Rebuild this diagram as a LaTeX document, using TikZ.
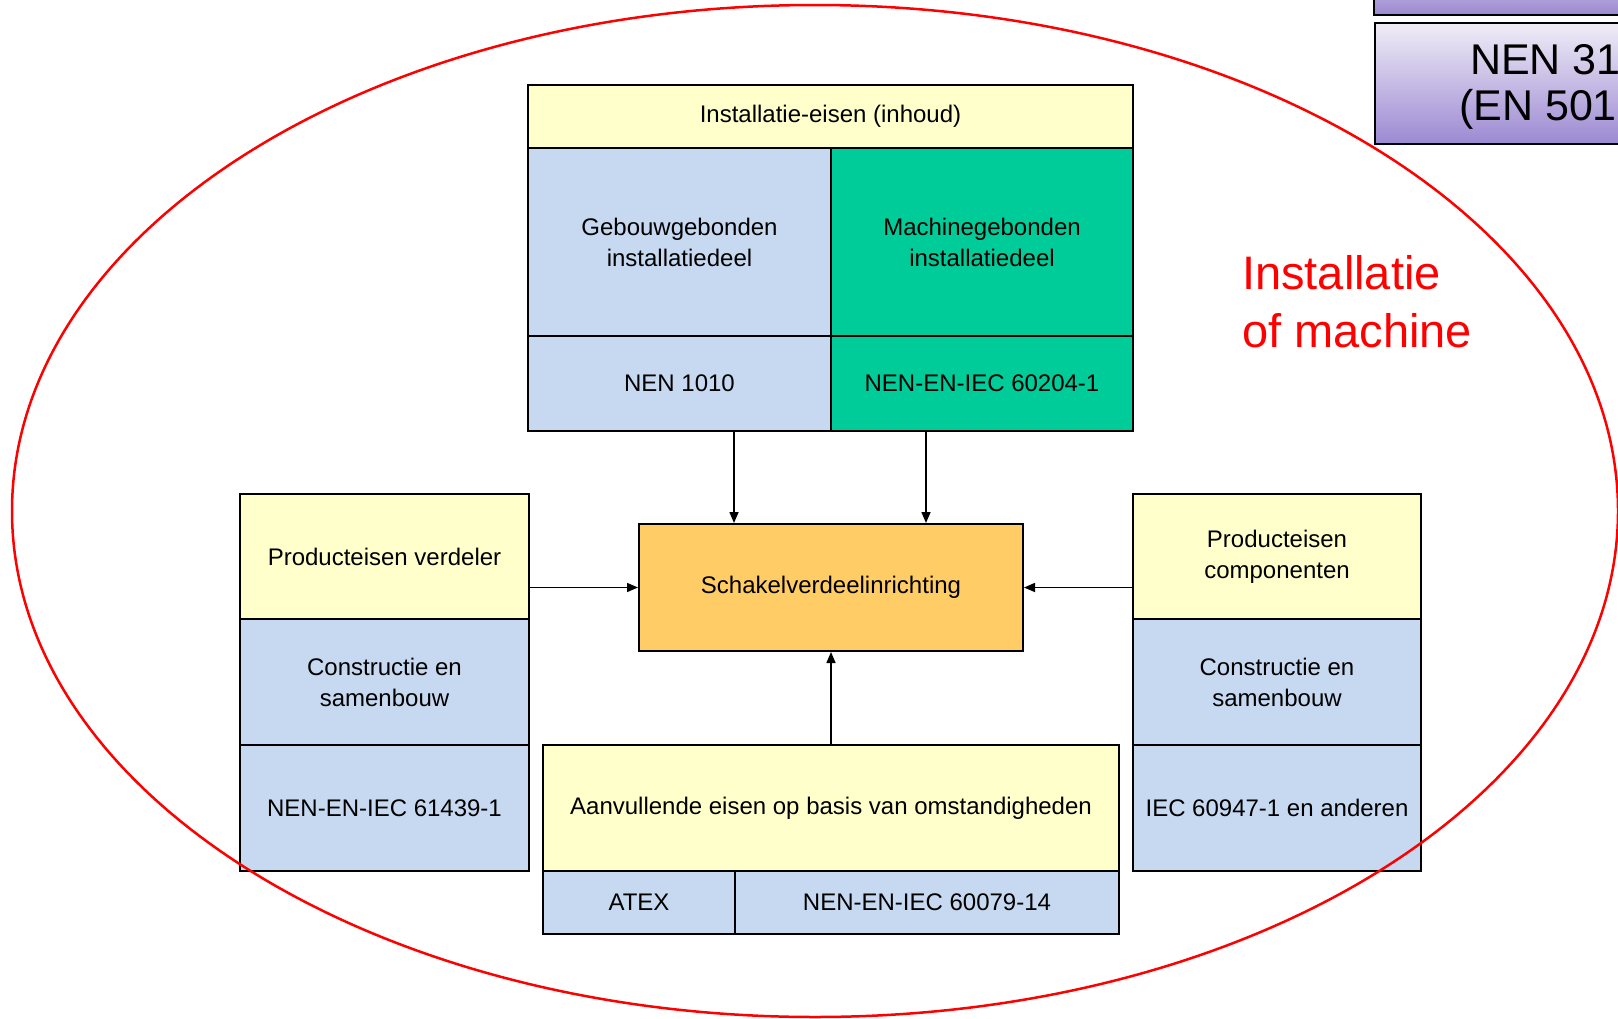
\documentclass[tikz,border=0pt]{standalone}
\usepackage{fontspec}
\setmainfont{Liberation Sans}
\usetikzlibrary{arrows.meta}
\definecolor{cyel}{HTML}{FFFFCC}
\definecolor{cblu}{HTML}{C6D9F0}
\definecolor{cgrn}{HTML}{00CC99}
\definecolor{corg}{HTML}{FFCC66}
\definecolor{cred}{HTML}{FF0000}
\definecolor{cpurtop}{HTML}{F0EDF7}
\definecolor{cpurbot}{HTML}{9C89D2}
\tikzset{
  cell/.style={draw=black, line width=2pt, inner sep=0pt, align=center,
    font=\fontsize{24}{31}\selectfont},
  yel/.style={cell, fill=cyel},
  blu/.style={cell, fill=cblu},
  grn/.style={cell, fill=cgrn},
  org/.style={cell, fill=corg},
  arr/.style={line width=1.5pt, -{Triangle[length=11pt,width=9pt]}},
  oval/.style={draw=cred, line width=2.5pt},
  purbox/.style={draw=black, line width=2pt, top color=cpurtop, bottom color=cpurbot},
  bigtxt/.style={inner sep=0pt, font=\fontsize{43}{49}\selectfont},
  redtxt/.style={inner sep=0pt, text=cred, align=left, font=\fontsize{47}{58}\selectfont}
}
\begin{document}
\begin{tikzpicture}[x=1pt,y=-1pt]
\useasboundingbox (0,0) rectangle (1618,1018);
\clip (0,0) rectangle (1618,1018);
\fill[white] (0,0) rectangle (1618,1018);

% top table
\node[yel, minimum width=605pt, minimum height=63pt] (hdr) at (830.5,116.5) {Installatie-eisen (inhoud)};
\node[blu, minimum width=303pt, minimum height=188pt] (geb) at (679.5,242) {Gebouwgebonden\\installatiedeel};
\node[grn, minimum width=302pt, minimum height=188pt] (mach) at (982,242) {Machinegebonden\\installatiedeel};
\node[blu, minimum width=303pt, minimum height=95pt] (nen1010) at (679.5,383.5) {NEN 1010};
\node[grn, minimum width=302pt, minimum height=95pt] (nen60204) at (982,383.5) {NEN-EN-IEC 60204-1};

% centre
\node[org, minimum width=384pt, minimum height=127pt] (sch) at (831,587.5) {Schakelverdeelinrichting};

% left stack
\node[yel, minimum width=289pt, minimum height=125pt] (lprod) at (384.5,556.5) {Producteisen verdeler};
\node[blu, minimum width=289pt, minimum height=126pt] (lcon) at (384.5,682) {Constructie en\\samenbouw};
\node[blu, minimum width=289pt, minimum height=126pt] (liec) at (384.5,808) {NEN-EN-IEC 61439-1};

% right stack
\node[yel, minimum width=288pt, minimum height=125pt] (rprod) at (1277,556.5) {Producteisen\\componenten};
\node[blu, minimum width=288pt, minimum height=126pt] (rcon) at (1277,682) {Constructie en\\samenbouw};
\node[blu, minimum width=288pt, minimum height=126pt] (riec) at (1277,808) {IEC 60947-1 en anderen};

% bottom
\node[yel, minimum width=576pt, minimum height=126pt] (aan) at (831,808) {Aanvullende eisen op basis van omstandigheden};
\node[blu, minimum width=192pt, minimum height=63pt] (atex) at (639,902.5) {ATEX};
\node[blu, minimum width=384pt, minimum height=63pt] (nen60079) at (927,902.5) {NEN-EN-IEC 60079-14};

% connectors
\draw[arr] ([xshift=54.5pt]nen1010.south) -- ([xshift=54.5pt]nen1010.south |- sch.north);
\draw[arr] ([xshift=-56pt]nen60204.south) -- ([xshift=-56pt]nen60204.south |- sch.north);
\draw[arr] (sch.west -| lprod.east) -- (sch.west);
\draw[arr] (sch.east -| rprod.west) -- (sch.east);
\draw[arr] (aan.north) -- (sch.south);

% red ellipse
\draw[oval] (815,511) ellipse [x radius=803pt, y radius=506pt];
\node[redtxt, anchor=west] (lbl) at (1242,302) {Installatie\\of machine};

% purple boxes top right
\path[purbox] (1374,-60) rectangle (1640,15);
\path[purbox] (1375,23) rectangle (1640,144);
\node[bigtxt, anchor=west] (nen31) at (1470,60) {NEN 31};
\node[bigtxt, anchor=west] (en501) at (1459,109) {(EN 501};
\end{tikzpicture}
\end{document}
